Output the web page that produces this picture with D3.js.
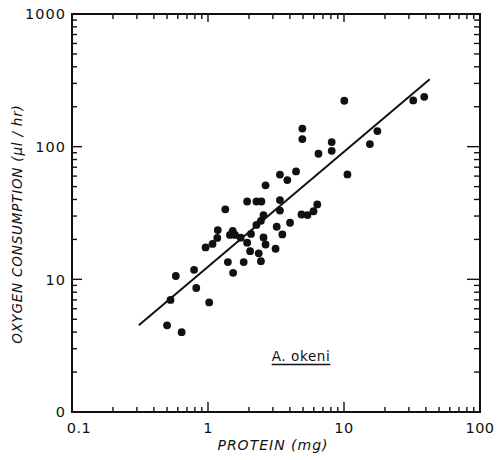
<!DOCTYPE html>
<html>
<head>
<meta charset="utf-8">
<script src="https://cdn.jsdelivr.net/npm/d3@7"></script>
<style>
  html, body { margin: 0; padding: 0; background: #fff; }
  svg { display: block; }
  text { fill: #111; }
</style>
</head>
<body>
<svg id="chart" width="498" height="460"></svg>
<script>
// data (protein mg vs O2 ul/hr)
const protein = [0.50, 0.53, 0.58, 0.64, 0.79, 0.82, 0.96, 1.02, 1.08, 1.17, 1.18, 1.34, 1.40, 1.52, 1.45,
  1.58, 1.53, 1.74, 1.83, 1.94, 1.94, 2.04, 2.07, 2.27, 2.47, 2.36, 2.45, 2.56, 2.65, 2.27, 2.45, 2.56,
  2.65, 3.14, 3.20, 3.38, 3.38, 3.52, 3.38, 3.83, 4.01, 4.44, 4.87, 5.39, 5.97, 6.36, 4.94, 4.94, 6.49,
  8.12, 8.12, 10.05, 10.6, 15.5, 17.6, 32.3, 38.9]
const oxygen = [4.5, 7.0, 10.6, 4.0, 11.8, 8.6, 17.4, 6.7, 18.5, 20.5, 23.5, 33.7, 13.5, 23.2, 21.6,
  21.6, 11.2, 20.6, 13.5, 18.9, 38.6, 16.3, 22.0, 38.6, 38.6, 15.7, 13.7, 20.7, 18.3, 25.7, 27.6, 30.5,
  51.1, 17.0, 24.9, 39.6, 33.0, 21.8, 61.6, 56.0, 26.7, 65.1, 30.8, 30.5, 32.6, 36.7, 136.9, 114.1, 88.4,
  108.3, 93.1, 221.8, 61.8, 104.6, 131.1, 223.3, 237.7]

// regression line end points
const fitProtein = [0.31, 42.7]
const fitOxygen = [4.5, 322]

const xTickValues = [0.1, 1, 10, 100]
const xTickLabels = ['0.1', '1', '10', '100']
const yTickValues = [1, 10, 100, 1000]
const yTickLabels = ['0', '10', '100', '1000']

const xTitle = 'PROTEIN (mg)'
const yTitle = 'OXYGEN  CONSUMPTION  (\u00b5l / hr)'
const speciesLabel = 'A. okeni'

const svg = d3.select('#chart')
const box = { left: 72, right: 480, top: 14, bottom: 412 }

const x = d3.scaleLog().domain([0.1, 100]).range([box.left, box.right])
const y = d3.scaleLog().domain([1, 1000]).range([box.bottom, box.top])

const isMajor = v => Math.abs(Math.log10(v) - Math.round(Math.log10(v))) < 1e-9

// ticks: inside on all four sides
const ticks = svg.append('g').attr('stroke', '#111').attr('stroke-width', 1.4)
x.ticks().forEach(v => {
  const len = isMajor(v) ? 10 : 5
  ticks.append('line').attr('x1', x(v)).attr('x2', x(v)).attr('y1', box.bottom).attr('y2', box.bottom - len)
  ticks.append('line').attr('x1', x(v)).attr('x2', x(v)).attr('y1', box.top).attr('y2', box.top + (isMajor(v) ? 8 : 5))
})
y.ticks().forEach(v => {
  const len = isMajor(v) ? 10 : 5
  ticks.append('line').attr('y1', y(v)).attr('y2', y(v)).attr('x1', box.left).attr('x2', box.left + len)
  ticks.append('line').attr('y1', y(v)).attr('y2', y(v)).attr('x1', box.right).attr('x2', box.right - (isMajor(v) ? 13 : 6))
})

// frame
svg.append('rect')
  .attr('x', box.left).attr('y', box.top)
  .attr('width', box.right - box.left).attr('height', box.bottom - box.top)
  .style('fill', 'none')
  .style('stroke', '#111')
  .style('stroke-width', 2)

// tick labels
const labelFont = "'DejaVu Sans', 'Liberation Sans', sans-serif"
svg.append('g').selectAll('text')
  .data(xTickValues)
  .enter()
  .append('text')
  .attr('x', (d, i) => x(d) + (i === 0 ? 7 : 0))
  .attr('y', 433)
  .attr('text-anchor', 'middle')
  .style('font-family', labelFont)
  .style('font-size', '14.5px')
  .style('letter-spacing', '0.5px')
  .text((d, i) => xTickLabels[i])

svg.append('g').selectAll('text')
  .data(yTickValues)
  .enter()
  .append('text')
  .attr('x', 66)
  .attr('y', d => y(d))
  .attr('dy', '0.36em')
  .attr('text-anchor', 'end')
  .style('font-family', labelFont)
  .style('font-size', '14.5px')
  .style('letter-spacing', '1px')
  .text((d, i) => yTickLabels[i])

// axis titles
svg.append('text')
  .attr('x', 273)
  .attr('y', 450)
  .attr('text-anchor', 'middle')
  .style('font-family', labelFont)
  .style('font-style', 'italic')
  .style('font-size', '14px')
  .style('letter-spacing', '1px')
  .text(xTitle)

svg.append('text')
  .attr('transform', 'translate(22, 224) rotate(-90)')
  .attr('text-anchor', 'middle')
  .style('font-family', labelFont)
  .style('font-style', 'italic')
  .style('font-size', '13.5px')
  .style('letter-spacing', '0.8px')
  .text(yTitle)

// regression line
svg.append('line')
  .attr('x1', x(fitProtein[0])).attr('y1', y(fitOxygen[0]))
  .attr('x2', x(fitProtein[1])).attr('y2', y(fitOxygen[1]))
  .style('stroke', '#111')
  .style('stroke-width', 2)

// points
svg.append('g').selectAll('circle')
  .data(protein.map((p, i) => ({ p, o: oxygen[i] })))
  .enter()
  .append('circle')
  .attr('cx', d => x(d.p))
  .attr('cy', d => y(d.o))
  .attr('r', 3.9)
  .style('fill', '#111')

// species label, underlined
const sp = svg.append('text')
  .attr('x', 301)
  .attr('y', 361)
  .attr('text-anchor', 'middle')
  .style('font-family', labelFont)
  .style('font-size', '13.5px')
  .style('letter-spacing', '0.6px')
  .text(speciesLabel)
const bb = sp.node().getBBox()
svg.append('line')
  .attr('x1', bb.x).attr('x2', bb.x + bb.width)
  .attr('y1', 364.5).attr('y2', 364.5)
  .style('stroke', '#111')
  .style('stroke-width', 1.3)
</script>
</body>
</html>
